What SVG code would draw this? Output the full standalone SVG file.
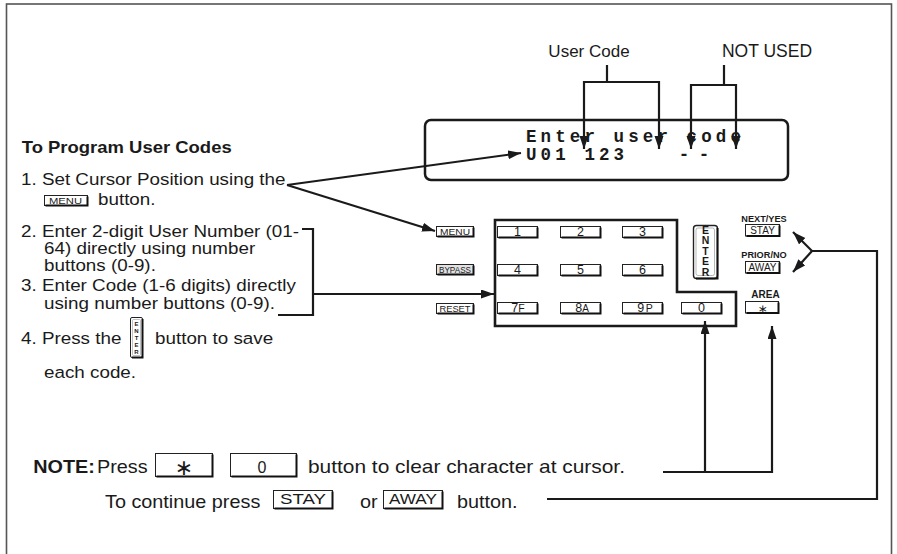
<svg xmlns="http://www.w3.org/2000/svg" width="897" height="554" viewBox="0 0 897 554">
<defs>
<style>
.t{font-family:"Liberation Sans",Arial,sans-serif;fill:#1a1a1a}
.b{font-weight:bold}
.m{font-family:"Liberation Mono","Courier New",monospace;font-weight:bold;fill:#1a1a1a}
.ln{stroke:#1a1a1a;stroke-width:2.2;fill:none}
.btn{fill:#fff;stroke:#222;stroke-width:1}
.sh{fill:none;stroke:#111;stroke-width:2}
.k{font-family:"Liberation Sans",Arial,sans-serif;fill:#1a1a1a;text-anchor:middle}
.v{font-family:"Liberation Sans",Arial,sans-serif;font-weight:bold;fill:#1a1a1a;writing-mode:vertical-rl;text-orientation:upright}
</style>
<marker id="ah" markerUnits="userSpaceOnUse" markerWidth="14" markerHeight="10" refX="13" refY="4.5" orient="auto">
<path d="M0,0 L13,4.5 L0,9 Z" fill="#1a1a1a"/>
</marker>
</defs>
<rect width="897" height="554" fill="#fff"/>
<rect x="6.5" y="4" width="885" height="580" fill="none" stroke="#555" stroke-width="1.6"/>

<g id="labels">
<text class="t" x="589" y="57" font-size="17" text-anchor="middle">User Code</text>
<text class="t" x="767" y="57" font-size="17.5" text-anchor="middle">NOT USED</text>
</g>

<g id="display">
<rect x="425" y="120" width="363" height="60" rx="6" fill="none" stroke="#1a1a1a" stroke-width="2.5"/>
<text class="m" x="526" y="142" font-size="17.5" letter-spacing="4.1">Enter user code</text>
<text class="m" x="526" y="160" font-size="17.5" letter-spacing="4.1">U01 123</text>
<text class="m" x="684" y="160" font-size="17.5" text-anchor="middle">-</text>
<text class="m" x="704" y="160" font-size="17.5" text-anchor="middle">-</text>
</g>

<g id="instructions">
<g transform="scale(1.12 1)">
<text class="t b" x="19.4" y="152.7" font-size="16.5">To Program User Codes</text>
<text class="t" x="18.75" y="185" font-size="16.8">1. Set Cursor Position using the</text>
<text class="t" x="87.5" y="205" font-size="16.8">button.</text>
<text class="t" x="18.75" y="237" font-size="16.8">2. Enter 2-digit User Number (01-</text>
<text class="t" x="39.3" y="254" font-size="16.8">64) directly using number</text>
<text class="t" x="39.3" y="271" font-size="16.8">buttons (0-9).</text>
<text class="t" x="18.75" y="291.5" font-size="16.8">3. Enter Code (1-6 digits) directly</text>
<text class="t" x="39.3" y="309" font-size="16.8">using number buttons (0-9).</text>
<text class="t" x="18.75" y="344" font-size="16.8">4. Press the</text>
<text class="t" x="138.4" y="344" font-size="16.8">button to save</text>
<text class="t" x="39.3" y="378" font-size="16.8">each code.</text>
</g>
<g id="mini-menu">
<rect class="btn" x="44.5" y="195.5" width="43" height="10"/>
<path class="sh" d="M87.5,196.5 V205.5 H45.5"/>
<text class="k" x="65.5" y="204" font-size="9.5" textLength="33" lengthAdjust="spacingAndGlyphs">MENU</text>
</g>
<g id="mini-enter">
<rect x="130.5" y="317.5" width="12" height="40" rx="1.5" fill="#fff" stroke="#222" stroke-width="1"/>
<rect x="132.5" y="319.5" width="8" height="36" rx="1" fill="none" stroke="#999" stroke-width="0.6"/>
<path class="sh" d="M142.5,319 V357.5 H132" stroke-width="1.6"/>
<text class="v" x="136.5" y="321" font-size="6" letter-spacing="1">ENTER</text>
</g>
</g>

<g id="keypad">
<path d="M495,220 H677 V292 H736 V326 H495 Z" fill="none" stroke="#1a1a1a" stroke-width="2.6"/>
<g id="btn-menu"><rect class="btn" x="436.5" y="226.5" width="37" height="10"/><path class="sh" d="M473.5,227.5 V236.5 H437.5"/><text class="k" x="455" y="235" font-size="9" textLength="30" lengthAdjust="spacingAndGlyphs">MENU</text></g>
<g id="btn-bypass"><rect class="btn" x="436.5" y="264.5" width="37" height="10" style="fill:#e2e2e2"/><path class="sh" d="M473.5,265.5 V274.5 H437.5"/><text class="k" x="455" y="273" font-size="9" textLength="32" lengthAdjust="spacingAndGlyphs">BYPASS</text></g>
<g id="btn-reset"><rect class="btn" x="436.5" y="303.5" width="37" height="10"/><path class="sh" d="M473.5,304.5 V313.5 H437.5"/><text class="k" x="455" y="312" font-size="9" textLength="31" lengthAdjust="spacingAndGlyphs">RESET</text></g>

<g id="btn-1"><rect class="btn" x="497.5" y="226.5" width="40" height="11"/><path class="sh" d="M537.5,227.5 V237.5 H498.5"/><text class="k" x="517.5" y="236" font-size="12.5">1</text></g>
<g id="btn-2"><rect class="btn" x="560.5" y="226.5" width="40" height="11"/><path class="sh" d="M600.5,227.5 V237.5 H561.5"/><text class="k" x="580.5" y="236" font-size="12.5">2</text></g>
<g id="btn-3"><rect class="btn" x="622.5" y="226.5" width="40" height="11"/><path class="sh" d="M662.5,227.5 V237.5 H623.5"/><text class="k" x="642.5" y="236" font-size="12.5">3</text></g>
<g id="btn-4"><rect class="btn" x="497.5" y="264.5" width="40" height="11"/><path class="sh" d="M537.5,265.5 V275.5 H498.5"/><text class="k" x="517.5" y="274" font-size="12.5">4</text></g>
<g id="btn-5"><rect class="btn" x="560.5" y="264.5" width="40" height="11"/><path class="sh" d="M600.5,265.5 V275.5 H561.5"/><text class="k" x="580.5" y="274" font-size="12.5">5</text></g>
<g id="btn-6"><rect class="btn" x="622.5" y="264.5" width="40" height="11"/><path class="sh" d="M662.5,265.5 V275.5 H623.5"/><text class="k" x="642.5" y="274" font-size="12.5">6</text></g>
<g id="btn-7"><rect class="btn" x="497.5" y="302.5" width="40" height="11"/><path class="sh" d="M537.5,303.5 V313.5 H498.5"/><text class="k" x="518" y="312" font-size="12.5">7<tspan font-size="10.5">F</tspan></text></g>
<g id="btn-8"><rect class="btn" x="560.5" y="302.5" width="40" height="11"/><path class="sh" d="M600.5,303.5 V313.5 H561.5"/><text class="k" x="582" y="312" font-size="12.5">8<tspan font-size="10">A</tspan></text></g>
<g id="btn-9"><rect class="btn" x="622.5" y="302.5" width="40" height="11"/><path class="sh" d="M662.5,303.5 V313.5 H623.5"/><text class="k" x="645" y="312" font-size="12.5">9<tspan font-size="10.5" dx="1.5">P</tspan></text></g>
<g id="btn-0"><rect class="btn" x="681.5" y="302.5" width="40" height="11"/><path class="sh" d="M721.5,303.5 V313.5 H682.5"/><text class="k" x="701.5" y="312" font-size="12.5">0</text></g>

<g id="btn-enter">
<rect x="693.5" y="225.5" width="24" height="53" rx="3" fill="#fff" stroke="#222" stroke-width="1.4"/>
<rect x="696" y="228" width="18.5" height="47.5" rx="2" fill="none" stroke="#999" stroke-width="0.7"/>
<path class="sh" d="M717.5,228 V278.5 H696"/>
<text class="v" x="705.5" y="223.5" font-size="10.5" letter-spacing="-1.5">ENTER</text>
</g>

<g id="btn-stay">
<text class="k b" x="764" y="221.5" font-size="9.2">NEXT/YES</text>
<rect class="btn" x="745.5" y="224.5" width="34" height="11.5"/><path class="sh" d="M779.5,225.5 V236 H746.5"/>
<text class="k" x="762.5" y="234.3" font-size="10">STAY</text>
</g>
<g id="btn-away">
<text class="k b" x="764" y="258.3" font-size="9.2">PRIOR/NO</text>
<rect class="btn" x="745.5" y="261.5" width="34" height="11.5"/><path class="sh" d="M779.5,262.5 V273 H746.5"/>
<text class="k" x="762.5" y="271.3" font-size="10">AWAY</text>
</g>
<g id="btn-area">
<text class="k b" x="765.5" y="298" font-size="10">AREA</text>
<rect class="btn" x="745.5" y="301.5" width="33" height="11.5"/><path class="sh" d="M778.5,302.5 V313 H746.5"/>
<text x="762.5" y="313" font-size="12" text-anchor="middle" font-family="DejaVu Sans,sans-serif" fill="#1a1a1a">∗</text>
</g>
</g>

<g id="note">
<g transform="scale(1.12 1)">
<text class="t b" x="29.7" y="473" font-size="17.7">NOTE:</text>
<text class="t" x="86.6" y="473" font-size="17.7">Press</text>
<text class="t" x="275" y="473" font-size="17.7" textLength="283" lengthAdjust="spacingAndGlyphs">button to clear character at cursor.</text>
<text class="t" x="93.75" y="508" font-size="17.7">To continue press</text>
<text class="t" x="321.4" y="508" font-size="17.7">or</text>
<text class="t" x="408" y="508" font-size="17.7">button.</text>
</g>
<g id="note-star"><rect class="btn" x="155.5" y="453.5" width="57" height="23"/><path class="sh" d="M212.5,454.5 V476.5 H156.5" stroke-width="2.4"/>
<text x="184" y="475" font-size="22" text-anchor="middle" font-family="DejaVu Sans,sans-serif" fill="#1a1a1a">∗</text></g>
<g id="note-zero"><rect class="btn" x="230.5" y="453.5" width="66" height="23"/><path class="sh" d="M296.5,454.5 V476.5 H231.5" stroke-width="2.4"/>
<text class="k" x="262" y="473" font-size="16">0</text></g>
<g id="note-stay"><rect class="btn" x="273.5" y="490.5" width="59" height="18"/><path class="sh" d="M332.5,491.5 V508.5 H274.5" stroke-width="2.2"/>
<text class="k" x="303" y="504" font-size="14.5" textLength="46" lengthAdjust="spacingAndGlyphs">STAY</text></g>
<g id="note-away"><rect class="btn" x="383.5" y="490.5" width="59" height="18"/><path class="sh" d="M442.5,491.5 V508.5 H384.5" stroke-width="2.2"/>
<text class="k" x="413" y="504" font-size="14.5" textLength="48" lengthAdjust="spacingAndGlyphs">AWAY</text></g>
</g>

<g id="connectors">
<path class="ln" d="M287,185 L521,153" marker-end="url(#ah)"/>
<path class="ln" d="M287,185 L435,231" marker-end="url(#ah)"/>
<path class="ln" d="M607,65 V82 M584,82 H659"/>
<path class="ln" d="M584,81 V149" marker-end="url(#ah)"/>
<path class="ln" d="M659,81 V149" marker-end="url(#ah)"/>
<path class="ln" d="M724,65 V85 M691,85 H736"/>
<path class="ln" d="M691,84 V149" marker-end="url(#ah)"/>
<path class="ln" d="M736,84 V149" marker-end="url(#ah)"/>
<path class="ln" d="M302,229 H313 V315 H278"/>
<path class="ln" d="M313,294 H494" marker-end="url(#ah)"/>
<path class="ln" d="M663,472 H772"/>
<path class="ln" d="M705,472 V321" marker-end="url(#ah)"/>
<path class="ln" d="M772,473 V326" marker-end="url(#ah)"/>
<path class="ln" d="M547,499 H877 V251 H812"/>
<path class="ln" d="M812,251 L793,232" marker-end="url(#ah)"/>
<path class="ln" d="M812,251 L793,272" marker-end="url(#ah)"/>
</g>
</svg>
